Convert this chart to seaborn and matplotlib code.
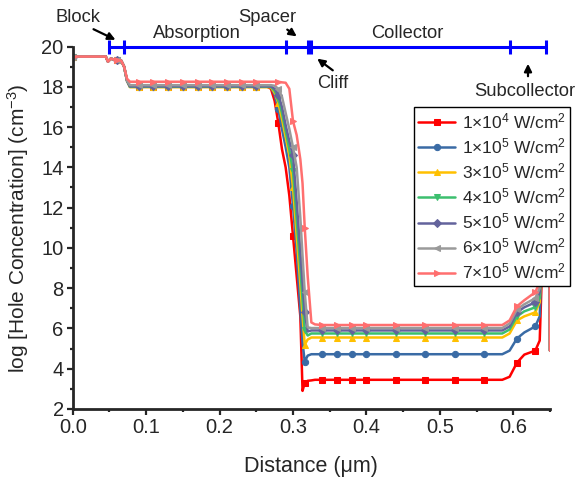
import numpy as np
import pandas as pd
import matplotlib
matplotlib.use("Agg")
import matplotlib.pyplot as plt
import seaborn as sns

# distance grid (um), shared by every curve
dist = [0.000, 0.045, 0.048, 0.052, 0.056, 0.060, 0.066, 0.070, 0.074, 0.078,
        0.090, 0.110, 0.130, 0.150, 0.170, 0.190, 0.210, 0.230, 0.250, 0.265,
        0.270, 0.275, 0.280, 0.285, 0.290, 0.295, 0.300, 0.305, 0.310, 0.313,
        0.316, 0.320, 0.325, 0.330, 0.340, 0.360, 0.380, 0.400, 0.440, 0.480,
        0.520, 0.560, 0.585, 0.595, 0.605, 0.615, 0.630, 0.636, 0.640, 0.649,
        0.650]

# log10 hole concentration for each intensity
p_1e4 = [19.5, 19.5, 19.25, 19.4, 19.35, 19.35, 19.3, 19.0, 18.3, 18.0,
         18.0, 18.0, 18.0, 18.0, 18.0, 18.0, 18.0, 18.0, 18.0, 18.0,
         17.9, 17.3, 16.2, 14.9, 14.0, 12.6, 10.6, 8.6, 6.6, 2.9,
         3.3, 3.4, 3.42, 3.45, 3.45, 3.45, 3.45, 3.45, 3.45, 3.45,
         3.45, 3.45, 3.45, 3.6, 4.3, 4.7, 4.9, 5.4, 10.0, 15.5,
         4.9]
p_1e5 = [19.5, 19.5, 19.25, 19.4, 19.35, 19.35, 19.3, 19.0, 18.3, 18.0,
         18.0, 18.0, 18.0, 18.0, 18.0, 18.0, 18.0, 18.0, 18.0, 18.0,
         17.98, 17.6, 16.9, 15.9, 15.0, 14.0, 12.1, 9.8, 6.9, 5.3,
         4.35, 4.65, 4.72, 4.72, 4.72, 4.72, 4.72, 4.72, 4.72, 4.72,
         4.72, 4.72, 4.72, 4.9, 5.5, 5.8, 6.1, 6.6, 11.0, 15.8,
         4.9]
p_3e5 = [19.5, 19.5, 19.25, 19.4, 19.35, 19.35, 19.3, 19.0, 18.3, 17.98,
         17.98, 17.98, 17.98, 17.98, 17.98, 17.98, 17.98, 17.98, 17.98, 17.98,
         17.98, 17.7, 17.2, 16.4, 15.5, 14.6, 13.0, 10.6, 8.2, 6.6,
         5.2, 5.45, 5.55, 5.55, 5.55, 5.55, 5.55, 5.55, 5.55, 5.55,
         5.55, 5.55, 5.55, 5.75, 6.4, 6.6, 6.8, 7.3, 11.5, 16.0,
         4.9]
p_4e5 = [19.5, 19.5, 19.25, 19.4, 19.35, 19.35, 19.3, 19.0, 18.3, 18.0,
         18.0, 18.0, 18.0, 18.0, 18.0, 18.0, 18.0, 18.0, 18.0, 18.0,
         18.0, 17.8, 17.4, 16.7, 15.8, 14.9, 13.8, 11.4, 9.0, 7.4,
         5.9, 5.65, 5.75, 5.75, 5.75, 5.75, 5.75, 5.75, 5.75, 5.75,
         5.75, 5.75, 5.75, 5.95, 6.6, 6.85, 7.05, 7.5, 11.8, 16.0,
         4.9]
p_5e5 = [19.5, 19.5, 19.25, 19.4, 19.35, 19.35, 19.3, 19.0, 18.3, 18.02,
         18.02, 18.02, 18.02, 18.02, 18.02, 18.02, 18.02, 18.02, 18.02, 18.02,
         18.02, 17.9, 17.6, 17.0, 16.1, 15.3, 14.6, 12.3, 9.8, 8.3,
         6.8, 5.85, 5.9, 5.9, 5.9, 5.9, 5.9, 5.9, 5.9, 5.9,
         5.9, 5.9, 5.9, 6.1, 6.8, 7.05, 7.3, 7.8, 12.0, 16.1,
         4.9]
p_6e5 = [19.5, 19.5, 19.25, 19.4, 19.35, 19.35, 19.3, 19.0, 18.3, 18.08,
         18.08, 18.08, 18.08, 18.08, 18.08, 18.08, 18.08, 18.08, 18.08, 18.08,
         18.08, 18.05, 17.9, 17.5, 16.7, 15.9, 15.0, 14.0, 11.5, 9.6,
         7.8, 6.05, 6.02, 6.02, 6.02, 6.02, 6.02, 6.02, 6.02, 6.02,
         6.02, 6.02, 6.02, 6.25, 6.95, 7.2, 7.5, 8.0, 12.2, 16.2,
         4.9]
p_7e5 = [19.5, 19.5, 19.25, 19.4, 19.35, 19.35, 19.3, 19.0, 18.4, 18.25,
         18.25, 18.25, 18.25, 18.25, 18.25, 18.25, 18.25, 18.25, 18.25, 18.25,
         18.25, 18.25, 18.25, 18.22, 18.2, 17.9, 16.3, 15.6, 14.4, 13.2,
         11.0, 8.6, 6.3, 6.2, 6.17, 6.17, 6.17, 6.17, 6.17, 6.17,
         6.17, 6.17, 6.17, 6.4, 7.1, 7.4, 7.8, 8.3, 12.4, 16.3,
         4.9]

labels = ["1×10$^4$ W/cm$^2$", "1×10$^5$ W/cm$^2$", "3×10$^5$ W/cm$^2$",
          "4×10$^5$ W/cm$^2$", "5×10$^5$ W/cm$^2$", "6×10$^5$ W/cm$^2$",
          "7×10$^5$ W/cm$^2$"]
series = [p_1e4, p_1e5, p_3e5, p_4e5, p_5e5, p_6e5, p_7e5]

# layer boundaries drawn as the bar on top
layer_edges = [0.05, 0.07, 0.29, 0.32, 0.325, 0.595, 0.645]

colors = ["#FF0000", "#3A6BA5", "#FFC000", "#3CBF6E", "#63639C", "#9A9A9A", "#FF6F6F"]
markers = ["s", "o", "^", "v", "D", "<", ">"]
mark_idx = [0, 5, 10, 11, 12, 13, 14, 15, 16, 17, 18, 22, 26, 30, 34, 35, 36, 37,
            38, 39, 40, 41, 44, 46, 48]

sns.set_style("ticks")
plt.rcParams["font.family"] = ["Liberation Sans", "DejaVu Sans"]
plt.rcParams["mathtext.fontset"] = "custom"
plt.rcParams["mathtext.rm"] = "Liberation Sans"
plt.rcParams["mathtext.it"] = "Liberation Sans:italic"

W, H = 577, 480
fig = plt.figure(figsize=(W / 100, H / 100), dpi=100)
ax = fig.add_axes([72.7 / W, 71 / H, (550 - 72.7) / W, (409 - 46.5) / H])

for ys, lab, c, m in zip(series, labels, colors, markers):
    df = pd.DataFrame({"dist": dist, "logp": ys})
    sns.lineplot(data=df, x="dist", y="logp", ax=ax, color=c, lw=1.8,
                 marker=m, markersize=4.5, markevery=mark_idx, mec=c,
                 label=lab, sort=False, estimator=None)

ax.set_xlim(0, 0.65)
ax.set_ylim(2, 20)
ax.set_xticks(np.arange(0, 0.61, 0.1))
ax.set_xticks(np.arange(0.05, 0.66, 0.1), minor=True)
ax.set_yticks(np.arange(2, 21, 2))
ax.set_yticks(np.arange(3, 20, 2), minor=True)
ax.xaxis.set_major_formatter(matplotlib.ticker.FormatStrFormatter("%.1f"))
ax.tick_params(which="major", direction="out", length=4, width=1.6,
               labelsize=14.5, pad=2.5)
ax.tick_params(which="minor", direction="out", length=2.5, width=1.6)
for s in ["top", "right"]:
    ax.spines[s].set_visible(False)
for s in ["left", "bottom"]:
    ax.spines[s].set_linewidth(2)
ax.set_xlabel("Distance (μm)", fontsize=15.5)
ax.set_ylabel("log [Hole Concentration] (cm$^{-3}$)", fontsize=15)
ax.xaxis.set_label_coords(0.5, -0.13)
ax.yaxis.set_label_coords(-0.088, 0.5)

# layer bar
ax.plot([layer_edges[0], layer_edges[-1]], [20, 20], color="#0000FF", lw=2.2,
        clip_on=False, zorder=5)
ax.plot(layer_edges, [20] * len(layer_edges), ls="none", marker="|", ms=10,
        mew=2.2, color="#0000FF", clip_on=False, zorder=5)


def fp(x, y):
    return (x / W, 1 - y / H)


fs = 13.2
fig.text(*fp(78, 17), "Block", ha="center", va="center", fontsize=fs)
fig.text(*fp(197, 33), "Absorption", ha="center", va="center", fontsize=fs)
fig.text(*fp(267, 17), "Spacer", ha="center", va="center", fontsize=fs)
fig.text(*fp(333, 83), "Cliff", ha="center", va="center", fontsize=fs)
fig.text(*fp(407, 33), "Collector", ha="center", va="center", fontsize=fs)
fig.text(*fp(474, 92), "Subcollector", ha="left", va="center", fontsize=fs)

arrows = [((91, 28), (118, 41)), ((285, 28), (299, 38)),
          ((335, 72), (315, 57)), ((528, 79), (528, 61))]
for tail, head in arrows:
    fig.add_artist(matplotlib.patches.FancyArrowPatch(
        fp(*tail), fp(*head), transform=fig.transFigure, arrowstyle="-|>",
        mutation_scale=11, color="k", lw=1.6))

leg = ax.legend(loc="upper left", bbox_to_anchor=fp(414, 107),
                bbox_transform=fig.transFigure, fontsize=12.5, frameon=True,
                fancybox=False, framealpha=1, edgecolor="k", handlelength=2.1,
                borderpad=0.25, labelspacing=0.3, handletextpad=0.4,
                borderaxespad=0)
leg.get_frame().set_linewidth(1.0)
leg.set_zorder(10)

fig.savefig("out.png", dpi=100)
